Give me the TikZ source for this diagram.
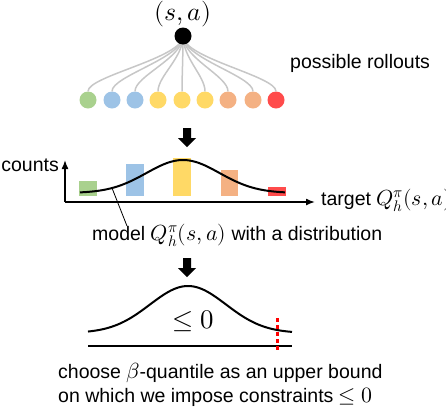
\documentclass[tikz,border=0pt]{standalone}
\usepackage{fontspec}
\usepackage{unicode-math}
\setmainfont{Liberation Sans}
\setmathfont{Latin Modern Math}[Scale=1.12]
\usetikzlibrary{arrows.meta}

\definecolor{rgreen}{HTML}{A9D18E}
\definecolor{rblue}{HTML}{9DC3E6}
\definecolor{ryellow}{HTML}{FFD966}
\definecolor{rorange}{HTML}{F4B183}
\definecolor{rred}{HTML}{FF4B4B}

\tikzset{
  rollout/.style={circle, inner sep=0pt, minimum size=17pt},
  lbl/.style={font=\fontsize{19.5}{23}\selectfont, inner sep=0pt},
  axis/.style={line width=1.5pt, -{Latex[length=9pt,width=7pt]}},
}

\begin{document}
\begin{tikzpicture}[x=1pt, y=-1pt]
  \useasboundingbox (0,0) rectangle (446,410);

  % rollouts from (s,a)
  \foreach \x/\c [count=\i] in {88/rgreen,112/rblue,135/rblue,158/ryellow,182/ryellow,205/ryellow,228/rorange,253/rorange,276/rred}
    \node[rollout, fill=\c] (r\i) at (\x,100) {};
  \coordinate (sa) at (183,36);
  \coordinate (bend) at (0,76);
  \foreach \i in {1,...,9}
    \draw[black!22, line width=1.5pt] (sa) .. controls (183,58) and (r\i.north |- bend) .. (r\i.north);
  \node[circle, fill=black, inner sep=0pt, minimum size=17pt] (root) at (sa) {};
  \node[font=\fontsize{23}{30}\selectfont, inner sep=0pt] (pair) at (183,14) {$(s,a)$};
  \node[lbl, anchor=base west] (rollouts) at (290,68) {possible rollouts};

  % block arrows
  \foreach \y in {128,258}
    \fill (183,\y) -- (191,\y) -- (191,\y+10) -- (196,\y+10) -- (187,\y+19)
      -- (178,\y+10) -- (183,\y+10) -- cycle;

  % histogram
  \foreach \xa/\xb/\t/\c in {79/97/181/rgreen, 126/144/164/rblue, 173/191/158/ryellow, 221/238/170/rorange, 268/286/187/rred}
    \fill[\c] (\xa,\t) rectangle (\xb,196);
  \draw[axis] (65,202) -- (65,160);
  \draw[axis] (65,202) -- (315,202);
  \node[lbl, anchor=base east] (counts) at (59,171) {counts};
  \node[lbl, anchor=base west] (target) at (321,205) {target $Q_h^{\pi}(s,a)$};
  \draw[line width=2pt] plot[domain=80:285, samples=80, smooth]
    (\x, {193-33*exp(-((\x-183)^2)/2664)});

  \coordinate (onbell) at (112,188);
  \coordinate (tail) at (127,226);
  \draw[line width=0.8pt] (onbell) -- (tail);
  \node[lbl, anchor=base west] (model) at (92,240) {model $Q_h^{\pi}(s,a)$ with a distribution};

  % quantile
  \draw[line width=2pt] plot[domain=88:292, samples=80, smooth]
    (\x, {333-47*exp(-((\x-188)^2)/2888)});
  \draw[line width=1.5pt] (88,346) -- (292,346);
  \draw[red, line width=3pt, dash pattern=on 4pt off 3pt] (277,318) -- (277,352);
  \node[font=\fontsize{24}{30}\selectfont, inner sep=0pt] (bound) at (193,321) {$\le 0$};
  \node[lbl, anchor=base west] (line1) at (58,378) {choose $\beta$-quantile as an upper bound};
  \node[lbl, anchor=base west] (line2) at (58,402) {on which we impose constraints $\le 0$};
\end{tikzpicture}
\end{document}
